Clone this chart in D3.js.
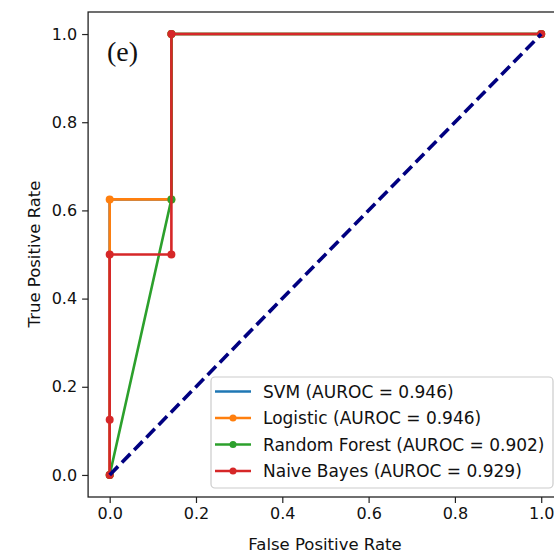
<!DOCTYPE html>
<html>
<head>
<meta charset="utf-8">
<script src="https://cdn.jsdelivr.net/npm/d3@7"></script>
<style>
  body { margin: 0; background: #fff; }
  svg { display: block; font-family: "DejaVu Sans", sans-serif; }
</style>
</head>
<body>
<svg id="chart" width="554" height="554"></svg>
<script>
// ROC points
var svmFpr = [0, 0, 0.143, 0.143, 1];
var svmTpr = [0, 0.625, 0.625, 1, 1];
var logFpr = [0, 0, 0.143, 0.143, 1];
var logTpr = [0, 0.625, 0.625, 1, 1];
var rfFpr = [0, 0.143, 0.143, 1];
var rfTpr = [0, 0.625, 1, 1];
var nbFpr = [0, 0, 0, 0.143, 0.143, 1];
var nbTpr = [0, 0.125, 0.5, 0.5, 1, 1];

var seriesNames = ["SVM (AUROC = 0.946)", "Logistic (AUROC = 0.946)",
                   "Random Forest (AUROC = 0.902)", "Naive Bayes (AUROC = 0.929)"];
var ticks = [0, 0.2, 0.4, 0.6, 0.8, 1.0];

var series = [
  {name: seriesNames[0], fpr: svmFpr, tpr: svmTpr, color: "#1f77b4", marker: false},
  {name: seriesNames[1], fpr: logFpr, tpr: logTpr, color: "#ff7f0e", marker: true},
  {name: seriesNames[2], fpr: rfFpr, tpr: rfTpr, color: "#2ca02c", marker: true},
  {name: seriesNames[3], fpr: nbFpr, tpr: nbTpr, color: "#d62728", marker: true}
];

var svg = d3.select("#chart");

var x = d3.scaleLinear().domain([-0.05, 1.05]).range([88.1, 562.8]);
var y = d3.scaleLinear().domain([-0.05, 1.05]).range([497, 12]);

var line = d3.line().x(function(d) { return x(d[0]); }).y(function(d) { return y(d[1]); });

// axes
var xaxis = d3.axisBottom(x).tickValues(ticks).tickFormat(d3.format(".1f")).tickSize(6).tickPadding(5);
var yaxis = d3.axisLeft(y).tickValues(ticks).tickFormat(d3.format(".1f")).tickSize(6).tickPadding(5);

svg.append("g").attr("transform", "translate(0,497)").call(xaxis).call(styleAxis);
svg.append("g").attr("transform", "translate(88.1,0)").call(yaxis).call(styleAxis);

function styleAxis(g) {
  g.select(".domain").remove();
  g.selectAll("line").attr("stroke", "#222").attr("stroke-width", 1.2);
  g.selectAll("text").attr("fill", "#111").style("font-size", "16px").style("font-family", "DejaVu Sans");
}

// frame
svg.append("rect")
  .attr("x", x(-0.05)).attr("y", y(1.05))
  .attr("width", x(1.05) - x(-0.05)).attr("height", y(-0.05) - y(1.05))
  .attr("fill", "none").attr("stroke", "#222").attr("stroke-width", 1.3);

// curves
series.forEach(function(s) {
  var pts = s.fpr.map(function(v, i) { return [v, s.tpr[i]]; });
  svg.append("path").datum(pts)
    .attr("d", line)
    .attr("fill", "none")
    .attr("stroke", s.color)
    .attr("stroke-width", 2.6);
  if (s.marker) {
    svg.selectAll(null).data(pts).enter().append("circle")
      .attr("cx", function(d) { return x(d[0]); })
      .attr("cy", function(d) { return y(d[1]); })
      .attr("r", 4)
      .attr("fill", s.color);
  }
});

// chance diagonal
svg.append("path").datum([[0, 0], [1, 1]])
  .attr("d", line)
  .attr("fill", "none")
  .attr("stroke", "#000080")
  .attr("stroke-width", 3.6)
  .attr("stroke-dasharray", "12,5.5");

// panel label
svg.append("text")
  .attr("x", 107).attr("y", 61)
  .style("font-family", "Liberation Serif, serif")
  .style("font-size", "28px")
  .attr("fill", "#111")
  .text("(e)");

// axis titles
svg.append("text")
  .attr("x", 325).attr("y", 550)
  .attr("text-anchor", "middle")
  .style("font-size", "16.5px")
  .attr("fill", "#111")
  .text("False Positive Rate");

svg.append("text")
  .attr("transform", "translate(40,254) rotate(-90)")
  .attr("text-anchor", "middle")
  .style("font-size", "16.5px")
  .attr("fill", "#111")
  .text("True Positive Rate");

// legend
var legend = svg.append("g");
legend.append("rect")
  .attr("x", 211).attr("y", 377)
  .attr("width", 342).attr("height", 111)
  .attr("rx", 4)
  .attr("fill", "#fff").attr("fill-opacity", 0.85)
  .attr("stroke", "#ccc").attr("stroke-width", 1.2);

var rowY = d3.scaleLinear().domain([0, 3]).range([391.5, 471]);

var rows = legend.selectAll("g.row").data(series).enter().append("g")
  .attr("class", "row")
  .attr("transform", function(d, i) { return "translate(0," + rowY(i) + ")"; });

rows.append("line")
  .attr("x1", 215).attr("x2", 251)
  .attr("stroke", function(d) { return d.color; })
  .attr("stroke-width", 2.6);

rows.filter(function(d) { return d.marker; }).append("circle")
  .attr("cx", 233).attr("r", 3.5)
  .attr("fill", function(d) { return d.color; });

rows.append("text")
  .attr("x", 263).attr("y", 6)
  .style("font-size", "17px")
  .attr("fill", "#111")
  .text(function(d) { return d.name; });
</script>
</body>
</html>
